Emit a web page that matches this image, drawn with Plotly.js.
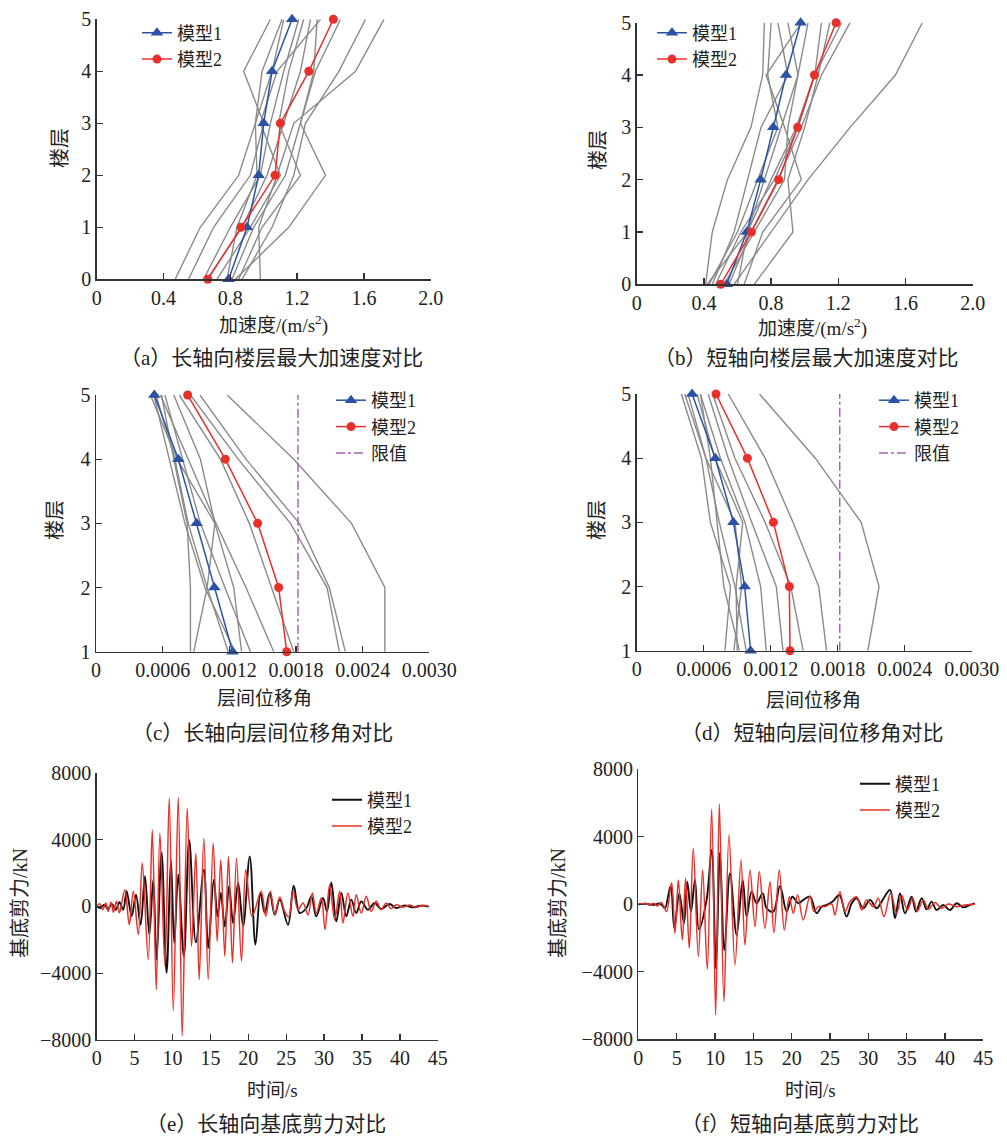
<!DOCTYPE html>
<html><head><meta charset="utf-8">
<script src="https://cdn.plot.ly/plotly-3.0.1.min.js"></script>
<style>html,body{margin:0;padding:0;background:#fff}#chart{width:1007px;height:1141px}</style>
</head><body><div id="chart"></div>
<script>
// ---------- DATA ----------
const floorsAcc = [0, 1, 2, 3, 4, 5];
const floorsDrift = [1, 2, 3, 4, 5];

// (a) long-axis floor peak acceleration (m/s2)
const accLongModel1 = [0.79, 0.90, 0.97, 1.00, 1.05, 1.17];
const accLongModel2 = [0.665, 0.864, 1.068, 1.10, 1.27, 1.417];
const accLongRecords = [
  [0.47, 0.62, 0.85, 0.95, 1.05, 1.12],
  [0.55, 0.70, 0.92, 1.00, 0.88, 1.04],
  [0.64, 0.80, 0.98, 1.04, 1.12, 1.21],
  [0.78, 0.84, 0.96, 0.95, 0.99, 1.11],
  [0.81, 0.94, 1.13, 1.22, 1.30, 1.32],
  [0.83, 1.15, 1.37, 1.22, 1.31, 1.46],
  [0.87, 1.05, 1.18, 1.25, 1.45, 1.61],
  [0.98, 0.97, 1.08, 1.18, 1.55, 1.72],
  [0.66, 0.87, 1.02, 1.12, 1.22, 1.28],
  [0.85, 0.99, 1.22, 1.09, 1.15, 1.24],
  [0.72, 0.92, 1.10, 0.98, 1.08, 1.34]
];

// (b) short-axis floor peak acceleration (m/s2)
const accShortModel1 = [0.536, 0.655, 0.738, 0.813, 0.889, 0.976];
const accShortModel2 = [0.50, 0.683, 0.845, 0.958, 1.058, 1.187];
const accShortRecords = [
  [0.41, 0.45, 0.54, 0.68, 0.75, 0.76],
  [0.43, 0.60, 0.72, 0.84, 0.78, 0.80],
  [0.45, 0.58, 0.66, 0.74, 0.90, 0.84],
  [0.52, 0.70, 0.88, 0.90, 0.96, 0.90],
  [0.58, 0.80, 1.02, 1.27, 1.54, 1.70],
  [0.60, 0.66, 0.80, 0.95, 1.06, 1.10],
  [0.64, 0.75, 0.98, 0.88, 0.77, 0.98],
  [0.70, 0.93, 0.90, 1.00, 1.08, 1.15],
  [0.47, 0.62, 0.82, 0.96, 1.06, 1.22],
  [0.55, 0.68, 0.84, 0.98, 1.10, 1.27],
  [0.42, 0.66, 0.76, 0.86, 0.96, 1.02]
];

// (c) long-axis inter-storey drift ratio
const driftLimit = 1 / 550;
const driftLongModel1 = [0.00123, 0.001065, 0.000906, 0.000741, 0.000525];
const driftLongModel2 = [0.001716, 0.001644, 0.001455, 0.001164, 0.000825];
const driftLongRecords = [
  [0.0026, 0.0026, 0.0023, 0.00178, 0.00118],
  [0.002244, 0.0021, 0.00183, 0.00135, 0.000936],
  [0.00219, 0.00208, 0.00175, 0.00128, 0.00085],
  [0.00131, 0.00124, 0.00107, 0.00094, 0.0007],
  [0.00085, 0.00085, 0.00082, 0.0007, 0.00059],
  [0.00088, 0.001, 0.00107, 0.00073, 0.00049],
  [0.0016, 0.00135, 0.00108, 0.00083, 0.00058],
  [0.00178, 0.00158, 0.00138, 0.00112, 0.00075],
  [0.00139, 0.00116, 0.00094, 0.00078, 0.00062],
  [0.00119, 0.001, 0.00083, 0.00071, 0.00054],
  [0.00125, 0.00098, 0.0008, 0.00066, 0.00052]
];

// (d) short-axis inter-storey drift ratio
const driftShortModel1 = [0.00102, 0.000967, 0.000866, 0.000704, 0.000496];
const driftShortModel2 = [0.001373, 0.001367, 0.001224, 0.000991, 0.00071];
const driftShortRecords = [
  [0.00207, 0.00217, 0.00201, 0.0016, 0.0011],
  [0.0017, 0.00163, 0.0014, 0.00115, 0.00082],
  [0.00149, 0.00138, 0.00115, 0.00088, 0.00068],
  [0.00079, 0.00084, 0.00066, 0.00058, 0.0004],
  [0.00087, 0.00094, 0.00088, 0.00062, 0.00043],
  [0.0009, 0.00089, 0.00095, 0.0007, 0.00054],
  [0.00116, 0.00111, 0.00097, 0.00075, 0.00057],
  [0.00131, 0.00125, 0.00103, 0.00082, 0.00064],
  [0.00092, 0.00078, 0.00072, 0.00066, 0.00057],
  [0.00098, 0.00088, 0.00074, 0.00062, 0.00046]
];

// (e) long-axis base shear time history (s, kN)
const shearLongTime1 = [0,0.5,1,1.5,2,2.5,3,3.5,3.95,4.61,5.18,5.79,6.37,6.94,7.46,7.9,8.56,9.22,9.79,10.23,10.76,11.5,12.2,13.08,14.14,14.71,15.45,15.94,16.37,16.9,17.47,17.99,18.66,19.32,20.19,20.94,21.6,22.17,22.83,23.49,24.15,25.24,25.99,26.78,27.66,28.32,28.97,29.85,30.38,30.95,31.61,32.27,32.93,33.58,34.24,34.9,35.78,36.66,37.53,38.63,39.51,40.61,41.71,42.8,43.81];
const shearLongModel1 = [0,-100,100,-150,150,-200,250,-200,900,-600,700,-1100,1800,-1700,1600,-3200,3220,-3980,2790,-2190,1890,-2990,3980,-2150,2190,-2490,1600,-600,800,-1200,1200,-1000,1400,-1200,2990,-2290,800,-400,800,-500,400,-1100,1230,-400,-100,600,-600,500,-300,1430,-900,800,-600,400,-400,300,-200,200,-160,140,-100,60,-60,40,-20];
const shearLongTime2 = [0,0.4,0.8,1.2,1.5,1.9,2.2,2.6,3.0,3.3,3.73,4.3,4.83,5.49,6.01,6.8,7.33,7.86,8.34,9.0,9.57,10.1,10.76,11.28,11.94,12.51,13.08,13.52,14.14,14.71,15.37,15.89,16.37,16.9,17.38,17.91,18.44,19.1,19.67,20.5,21.7,22.3,22.92,23.49,24.15,24.8,25.33,25.9,26.56,27.22,27.88,28.45,28.97,29.63,30.12,30.73,31.39,32.05,32.49,33.14,33.8,34.24,34.9,35.56,36.22,36.88,37.53,38.19,38.85,39.51,40.39,41.27,42.14,43.02,43.81];
const shearLongModel2 = [0,150,-200,200,-300,250,-350,300,-400,200,1000,-1100,900,-1690,2590,-3180,4580,-4980,4380,-3580,6470,-6270,6510,-7760,5870,-2390,3180,-4380,4080,-4380,3780,-2090,2790,-2990,2990,-3380,2890,-3280,2190,-600,900,-600,900,-500,560,-300,-640,900,-200,200,-500,800,-400,500,-1390,1290,-800,900,-1000,800,-600,700,-400,600,-300,300,-200,200,-140,100,-60,80,-60,60,0];

// (f) short-axis base shear time history (s, kN)
const shearShortTime1 = [0,1,2,2.8,3.2,3.48,4.22,4.7,5.35,5.96,6.39,6.87,7.39,7.91,8.91,9.57,10.13,10.65,11.22,11.96,12.83,13.61,14.13,14.78,15.43,16.22,16.74,17.61,18.48,19.35,20.09,20.87,21.52,22.39,23.26,23.91,24.57,25.35,26.22,27.17,27.83,28.48,29.35,30.22,31.09,31.74,32.83,33.48,34.13,34.78,35.65,36.22,36.96,37.61,38.26,38.91,39.78,40.65,41.52,42.39,43.26,43.91];
const shearShortModel1 = [0,30,-30,50,-100,-240,1090,-1420,650,-1130,1340,-430,1440,-1480,260,3220,-3790,3060,-2710,1840,-1820,1440,-730,750,60,650,-240,-430,1090,-430,450,60,260,450,-530,-140,-40,160,550,-730,60,360,-240,260,-240,160,850,-830,650,-530,450,-430,360,-300,160,-340,-40,-340,60,-180,-40,60];
const shearShortTime2 = [0,1,1.5,2,2.5,3,3.4,3.7,4.35,4.78,5.22,5.74,6.17,6.65,7.17,7.83,8.39,9.0,9.57,10.09,10.57,11.17,11.83,12.61,13.39,13.91,14.57,15.22,15.78,16.52,17.17,17.7,18.39,19.04,19.7,20.22,20.78,21.52,22.39,22.91,23.48,24.35,25.22,25.65,26.3,26.96,27.61,28.48,29.13,29.78,30.65,31.3,32.04,32.91,33.7,34.35,35.09,35.78,36.39,37.17,37.83,38.7,39.57,40.43,41.52,42.61,43.91];
const shearShortModel2 = [0,50,-50,60,-100,100,-200,-430,1280,-1720,1440,-2110,1540,-2610,3320,-3100,2030,-3850,5630,-6560,5930,-5770,4110,-3600,2630,-2410,2030,-1320,1940,-1420,1340,-1680,2030,-1520,450,-530,550,-930,490,-430,-140,-140,20,-630,750,-430,160,450,-340,260,-140,360,-730,650,-530,550,-340,360,-400,260,-300,100,-240,20,-140,-40,0];

// ---------- STYLE ----------
const W = 1007, H = 1141;
const X = v => v / W, Y = v => 1 - v / H;
const SERIF = 'Liberation Serif, "Noto Sans CJK SC", serif';
const BLUE = '#2a53a6', RED = '#e8302a', GRAY = '#8a8a8a', PURPLE = '#a862b3';

const traces = [];
function profilePanel(n, floors, records, m1, m2, withLimit) {
  const xa = n === 1 ? 'x' : 'x' + n, ya = n === 1 ? 'y' : 'y' + n;
  const lg = n === 1 ? 'legend' : 'legend' + n;
  records.forEach(r => traces.push({x: r, y: floors, xaxis: xa, yaxis: ya, mode: 'lines',
    line: {color: GRAY, width: 1.4}, showlegend: false, hoverinfo: 'skip'}));
  traces.push({x: m1, y: floors, xaxis: xa, yaxis: ya, mode: 'lines+markers', name: '模型1', legend: lg,
    line: {color: BLUE, width: 1.5}, marker: {symbol: 'triangle-up', size: 11, color: BLUE}, cliponaxis: false});
  traces.push({x: m2, y: floors, xaxis: xa, yaxis: ya, mode: 'lines+markers', name: '模型2', legend: lg,
    line: {color: RED, width: 1.5}, marker: {symbol: 'circle', size: 9, color: RED}, cliponaxis: false});
  if (withLimit) traces.push({x: [driftLimit, driftLimit], y: [1, 5], xaxis: xa, yaxis: ya, mode: 'lines',
    name: '限值', legend: lg, line: {color: PURPLE, width: 1.5, dash: 'dashdot'}});
}
profilePanel(1, floorsAcc, accLongRecords, accLongModel1, accLongModel2, false);
profilePanel(2, floorsAcc, accShortRecords, accShortModel1, accShortModel2, false);
profilePanel(3, floorsDrift, driftLongRecords, driftLongModel1, driftLongModel2, true);
profilePanel(4, floorsDrift, driftShortRecords, driftShortModel1, driftShortModel2, true);

function historyPanel(n, t1, v1, t2, v2) {
  const xa = 'x' + n, ya = 'y' + n, lg = 'legend' + n;
  traces.push({x: t1, y: v1, xaxis: xa, yaxis: ya, mode: 'lines', name: '模型1', legend: lg,
    line: {color: '#111', width: 1.9, shape: 'spline', smoothing: 1}});
  traces.push({x: t2, y: v2, xaxis: xa, yaxis: ya, mode: 'lines', name: '模型2', legend: lg,
    line: {color: RED, width: 1.5, shape: 'spline', smoothing: 1}});
}
historyPanel(5, shearLongTime1, shearLongModel1, shearLongTime2, shearLongModel2);
historyPanel(6, shearShortTime1, shearShortModel1, shearShortTime2, shearShortModel2);

const axBase = {showline: true, linecolor: '#333', linewidth: 1.4, ticks: 'inside', ticklen: 6,
  tickcolor: '#333', tickwidth: 1.3, showgrid: false, zeroline: false, tickangle: 0, fixedrange: true,
  tickfont: {family: SERIF, size: 20, color: '#222'}};
const ax = o => Object.assign({}, axBase, o);

const accTicks = {tickvals: [0, 0.4, 0.8, 1.2, 1.6, 2.0], ticktext: ['0', '0.4', '0.8', '1.2', '1.6', '2.0'], range: [0, 2]};
const driftTicks = {tickvals: [0, 0.0006, 0.0012, 0.0018, 0.0024, 0.003], ticktext: ['0', '0.0006', '0.0012', '0.0018', '0.0024', '0.0030'], range: [0, 0.003]};
const timeTicks = {tickvals: [0,5,10,15,20,25,30,35,40,45], ticktext: ['0','5','10','15','20','25','30','35','40','45'], range: [0, 45]};
const shearTicks = {tickvals: [-8000,-4000,0,4000,8000], ticktext: ['\u22128000','\u22124000','0','4000','8000'], range: [-8000, 8000]};

function legend(left, top) {
  return {x: X(left), y: Y(top), xanchor: 'left', yanchor: 'top', bgcolor: 'rgba(0,0,0,0)', borderwidth: 0,
    font: {family: SERIF, size: 18, color: '#222'}, tracegroupgap: 0, itemwidth: 30};
}

const ann = [];
function txt(x, y, s, size, rot) {
  ann.push({xref: 'paper', yref: 'paper', x: X(x), y: Y(y), text: s, showarrow: false, textangle: rot || 0,
    xanchor: 'center', yanchor: 'middle', font: {family: SERIF, size: size, color: '#222'}});
}
// axis titles
txt(60, 148, '楼层', 20, -90); txt(598, 150, '楼层', 20, -90);
txt(55, 520, '楼层', 20, -90); txt(597, 520, '楼层', 20, -90);
txt(20, 903, '基底剪力/kN', 20, -90); txt(558, 903, '基底剪力/kN', 20, -90);
txt(273, 325, '加速度/(m/s<sup>2</sup>)', 19); txt(812, 327, '加速度/(m/s<sup>2</sup>)', 19);
txt(264, 698, '层间位移角', 19); txt(813, 700, '层间位移角', 19);
txt(272, 1090, '时间/s', 19); txt(810, 1090, '时间/s', 19);
// captions
txt(271, 358, '（a）长轴向楼层最大加速度对比', 21); txt(806, 358, '（b）短轴向楼层最大加速度对比', 21);
txt(262, 733, '（c）长轴向层间位移角对比', 21); txt(812, 733, '（d）短轴向层间位移角对比', 21);
txt(266, 1124, '（e）长轴向基底剪力对比', 21); txt(800, 1124, '（f）短轴向基底剪力对比', 21);

const layout = {
  width: W, height: H, margin: {l: 0, r: 0, t: 0, b: 0}, paper_bgcolor: '#fff', plot_bgcolor: 'rgba(0,0,0,0)',
  font: {family: SERIF, color: '#222'}, showlegend: true,
  xaxis: ax(Object.assign({domain: [X(96.7), X(430.7)], anchor: 'y'}, accTicks)),
  yaxis: ax({domain: [Y(279.3), Y(19.3)], anchor: 'x', range: [0, 5], tickvals: [0,1,2,3,4,5]}),
  xaxis2: ax(Object.assign({domain: [X(636.7), X(972.7)], anchor: 'y2'}, accTicks)),
  yaxis2: ax({domain: [Y(284.3), Y(22.7)], anchor: 'x2', range: [0, 5], tickvals: [0,1,2,3,4,5]}),
  xaxis3: ax(Object.assign({domain: [X(96), X(429.3)], anchor: 'y3'}, driftTicks)),
  yaxis3: ax({domain: [Y(651.7), Y(395)], anchor: 'x3', range: [1, 5], tickvals: [1,2,3,4,5]}),
  xaxis4: ax(Object.assign({domain: [X(636.7), X(971.7)], anchor: 'y4'}, driftTicks)),
  yaxis4: ax({domain: [Y(650.7), Y(394)], anchor: 'x4', range: [1, 5], tickvals: [1,2,3,4,5]}),
  xaxis5: ax(Object.assign({domain: [X(96.7), X(437.8)], anchor: 'y5'}, timeTicks)),
  yaxis5: ax(Object.assign({domain: [Y(1040), Y(772.7)], anchor: 'x5'}, shearTicks)),
  xaxis6: ax(Object.assign({domain: [X(638.3), X(983.3)], anchor: 'y6'}, timeTicks)),
  yaxis6: ax(Object.assign({domain: [Y(1039.3), Y(769.3)], anchor: 'x6'}, shearTicks)),
  legend: legend(137, 14.5), legend2: legend(652, 14.5),
  legend3: legend(331, 382), legend4: legend(874, 382),
  legend5: legend(327, 781.5), legend6: legend(855, 765.5),
  annotations: ann
};
Plotly.newPlot('chart', traces, layout, {displayModeBar: false, staticPlot: true});
</script></body></html>
